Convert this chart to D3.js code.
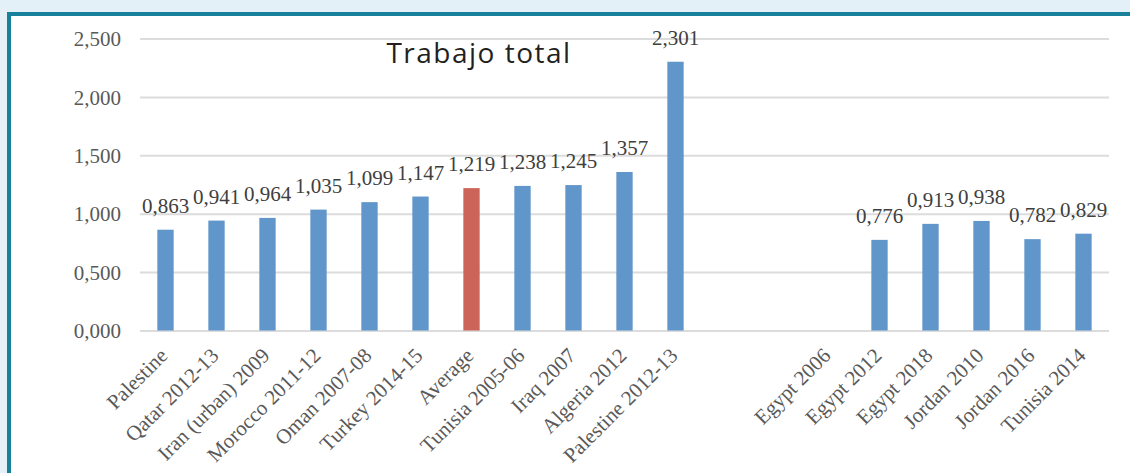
<!DOCTYPE html>
<html lang="es">
<head>
<meta charset="utf-8">
<title>Trabajo total</title>
<script src="https://d3js.org/d3.v7.min.js"></script>
<style>
  html, body { margin: 0; padding: 0; background: #e3f0f8; }
  svg { display: block; }
  .grid line { stroke: #dcdcdc; stroke-width: 2px; }
  .grid text { font-family: "Liberation Serif", "Times New Roman", serif; font-size: 21px; fill: #595959; }
  .xaxis text { font-family: "Liberation Serif", "Times New Roman", serif; font-size: 21px; fill: #595959; }
  .val { font-family: "Liberation Serif", "Times New Roman", serif; font-size: 21px; fill: #404040; }
  .title { font-family: "Open Sans", Lato, sans-serif; font-size: 28px; letter-spacing: 1.5px; fill: #231f20; }
</style>
</head>
<body>
<div id="chart"></div>
<script>
// categories (the two blank slots are empty gaps in the original)
const categories = ["Palestine", "Qatar 2012-13", "Iran (urban) 2009", "Morocco 2011-12",
  "Oman 2007-08", "Turkey 2014-15", "Average", "Tunisia 2005-06", "Iraq 2007",
  "Algeria 2012", "Palestine 2012-13", " ", "  ", "Egypt 2006", "Egypt 2012",
  "Egypt 2018", "Jordan 2010", "Jordan 2016", "Tunisia 2014"];
const values = [0.863, 0.941, 0.964, 1.035, 1.099, 1.147, 1.219, 1.238, 1.245,
  1.357, 2.301, null, null, null, 0.776, 0.913, 0.938, 0.782, 0.829];
const highlight = "Average";
const yTicks = [0, 0.5, 1, 1.5, 2, 2.5];
const title = "Trabajo total";

const width = 1130, height = 473;
const plotLeft = 140, plotRight = 1109, plotTop = 38.5, plotBottom = 330.5;

const svg = d3.select("#chart").append("svg")
  .attr("width", width)
  .attr("height", height);

// frame
svg.append("rect").attr("x", 0).attr("y", 0).attr("width", width).attr("height", height).attr("fill", "#e3f0f8");
svg.append("rect").attr("x", 11).attr("y", 16).attr("width", width - 11).attr("height", height - 16).attr("fill", "#fff");
svg.append("rect").attr("x", 7).attr("y", 12).attr("width", width - 7).attr("height", 4).attr("fill", "#17809b");
svg.append("rect").attr("x", 7).attr("y", 12).attr("width", 4).attr("height", height - 12).attr("fill", "#17809b");

const fmt = d3.formatLocale({ decimal: ",", thousands: ".", grouping: [3], currency: ["", ""] }).format(".3f");

const x = d3.scaleBand().domain(categories).range([plotLeft, plotRight])
  .paddingInner(0.68).paddingOuter(0.34);
const y = d3.scaleLinear().domain([0, 2.5]).range([plotBottom, plotTop]);

// gridlines + y labels
const g = svg.append("g").attr("class", "grid")
  .attr("transform", `translate(${plotLeft},0)`)
  .call(d3.axisLeft(y).tickValues(yTicks).tickFormat(fmt)
    .tickSize(-(plotRight - plotLeft)).tickPadding(19));
g.select(".domain").remove();
g.selectAll("text").attr("dy", "0.34em");

// x labels
const xa = svg.append("g").attr("class", "xaxis")
  .attr("transform", `translate(0,${plotBottom})`)
  .call(d3.axisBottom(x).tickSize(0));
xa.select(".domain").remove();
xa.selectAll("text")
  .attr("text-anchor", "end")
  .attr("x", 0).attr("y", 0).attr("dy", "0.7em")
  .attr("transform", "translate(-7,16) rotate(-45)");

const data = categories.map((c, i) => ({ c, v: values[i] })).filter(d => d.v != null);

svg.append("g").selectAll("rect")
  .data(data)
  .join("rect")
  .attr("x", d => x(d.c))
  .attr("width", x.bandwidth())
  .attr("y", d => y(d.v))
  .attr("height", d => y(0) - y(d.v))
  .attr("fill", d => d.c === highlight ? "#cd645a" : "#6096c9");

svg.append("g").selectAll("text")
  .data(data)
  .join("text")
  .attr("class", "val")
  .attr("x", d => x(d.c) + x.bandwidth() / 2)
  .attr("y", d => y(d.v) - 17)
  .attr("text-anchor", "middle")
  .text(d => fmt(d.v));

svg.append("text").attr("class", "title")
  .attr("x", 479).attr("y", 63)
  .attr("text-anchor", "middle")
  .text(title);
</script>
</body>
</html>
